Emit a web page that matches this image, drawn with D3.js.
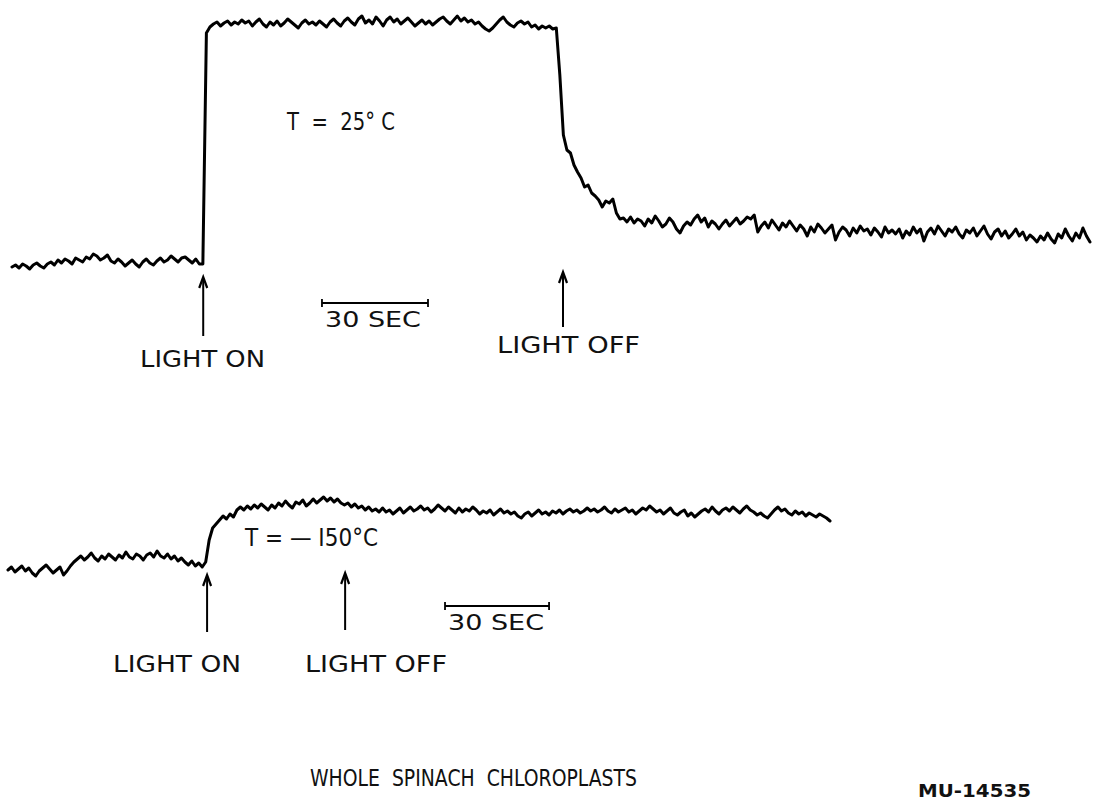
<!DOCTYPE html>
<html>
<head>
<meta charset="utf-8">
<script src="https://cdn.jsdelivr.net/npm/d3@7"></script>
<style>
    body { margin:0; background:#fff; }
    svg text { font-family:"DejaVu Sans", sans-serif; fill:#111; white-space:pre; }
</style>
</head>
<body>
<svg id="chart" width="1093" height="805"></svg>
<script>
// signal deflection (arbitrary units), one sample per second
var topTrace = [
    3,5,2,6,4,1,5,7,4,2,6,
    8,5,10,7,11,9,6,12,10,8,
    13,11,16,14,10,12,15,9,7,11,
    8,4,7,10,6,3,8,11,7,5,
    9,12,8,10,14,11,8,12,13,10,7,11,6,
    6,
    237,243,246,248,244,247,249,245,248,246,250,
    247,249,244,248,251,246,243,248,245,249,
    244,247,251,248,245,242,247,250,246,248,
    245,249,246,243,248,251,247,244,249,252,
    248,245,251,254,247,250,246,253,249,244,
    250,253,248,251,246,249,252,248,244,247,
    250,246,249,245,248,251,253,249,246,250,
    254,249,252,248,250,246,248,244,241,239,
    242,246,250,253,248,245,243,247,249,246,
    248,243,245,241,244,242,244,241,
    242,
    195,135,120,117,105,98,92,83,85,77,74,70,63,69,67,71,57,51,52,48,53,47,51,49,44,51,
    47,54,49,43,46,52,48,41,37,44,
    48,45,51,55,48,52,43,49,46,41,
    46,50,44,48,52,46,49,53,51,55,
    38,44,48,42,50,45,40,47,43,49,
    44,39,45,41,34,43,38,46,42,37,
    41,45,30,38,43,40,34,42,37,44,
    39,41,35,42,38,33,43,37,40,36,
    41,32,39,35,43,37,41,29,38,42,
    36,44,39,34,41,38,43,36,32,40,
    37,42,34,39,44,36,31,38,41,34,
    39,32,36,41,34,38,30,35,32,28,
    34,30,37,31,27,36,32,41,34,29,
    37,32,42,34,28
];
var bottomTrace = [
    15,18,13,16,19,14,17,12,9,14,17,
    20,16,12,15,18,10,14,19,23,26,
    29,25,28,32,27,24,29,26,31,28,
    25,30,27,33,28,26,31,29,25,30,
    32,28,34,29,27,31,26,29,24,27,
    23,20,24,19,22,18,23,
    45,57,61,65,69,66,71,68,75,78,
    75,79,76,80,77,81,78,75,80,77,
    82,79,84,80,77,83,81,85,79,82,
    86,82,85,88,84,87,83,86,82,80,
    82,78,81,77,79,75,78,74,76,73,
    77,73,75,71,74,77,72,75,78,74,
    76,79,75,77,73,76,80,77,74,78,
    75,72,77,73,76,74,78,75,71,74,
    72,75,70,73,76,72,74,71,73,69,
    67,71,73,69,72,75,71,73,70,74,
    72,75,71,74,76,73,75,72,74,77,
    74,76,73,75,78,74,72,76,73,75,
    77,73,75,71,74,77,75,79,76,73,
    75,71,74,77,72,70,73,75,69,72,
    68,71,74,76,73,78,74,71,75,77,
    74,78,75,72,76,79,75,73,70,72,
    69,67,71,75,78,74,76,72,70,74,
    71,73,69,72,70,68,71,69,67,64
];

// event times (s) and scale bar start (s)
var topEvents = [{label:"LIGHT ON", t:54.1}, {label:"LIGHT OFF", t:155.9}];
var bottomEvents = [{label:"LIGHT ON", t:57.4}, {label:"LIGHT OFF", t:97.2}];
var topBarStart = 87.7, bottomBarStart = 126;
var barLength = 30;
var topTempLabel = "T  =  25° C";
var bottomTempLabel = "T = — I50°C";
var titleText = "WHOLE  SPINACH  CHLOROPLASTS";
var codeText = "MU-14535";

var svg = d3.select("#chart");
svg.append("rect").attr("width",1093).attr("height",805).attr("fill","#fff");

var xTop = d3.scaleLinear().domain([0, topTrace.length-1]).range([12, 1090]);
var yTop = d3.scaleLinear().domain([0, 250]).range([270, 20]);
var xBot = d3.scaleLinear().domain([0, bottomTrace.length-1]).range([8, 830]);
var yBot = d3.scaleLinear().domain([0, 250]).range([585, 335]);

function drawTrace(data, x, y) {
    var line = d3.line()
        .x(function (d, i) { return x(i); })
        .y(function (d) { return y(d); });
    svg.append("path")
        .datum(data)
        .attr("d", line)
        .attr("fill","none")
        .attr("stroke","#000")
        .attr("stroke-width",3)
        .attr("stroke-linejoin","round")
        .attr("stroke-linecap","round");
}

function drawArrow(xpos, tipY, tailY) {
    svg.append("line").attr("x1",xpos).attr("x2",xpos)
        .attr("y1",tipY+2).attr("y2",tailY)
        .attr("stroke","#000").attr("stroke-width",2);
    svg.append("path")
        .attr("d","M"+(xpos-4)+","+(tipY+11)+"L"+xpos+","+tipY+"L"+(xpos+4)+","+(tipY+11))
        .attr("fill","none").attr("stroke","#000").attr("stroke-width",2.2);
}

function label(txt, x, y, size, len, weight) {
    svg.append("text")
        .attr("x",x).attr("y",y)
        .attr("font-size",size)
        .attr("font-weight",weight || "normal")
        .attr("textLength",len)
        .attr("lengthAdjust","spacingAndGlyphs")
        .attr("xml:space","preserve")
        .text(txt);
}

function scaleBar(x, t0, yy) {
    var x1 = x(t0), x2 = x(t0 + barLength);
    svg.append("line").attr("x1",x1).attr("x2",x2).attr("y1",yy).attr("y2",yy)
        .attr("stroke","#000").attr("stroke-width",2);
    [x1, x2].forEach(function (xx) {
        svg.append("line").attr("x1",xx).attr("x2",xx).attr("y1",yy-4).attr("y2",yy+4)
            .attr("stroke","#000").attr("stroke-width",1.8);
    });
    label("30 SEC", x1+3, yy+24, 22, 96);
}

drawTrace(topTrace, xTop, yTop);
drawTrace(bottomTrace, xBot, yBot);

// top panel annotations
drawArrow(xTop(topEvents[0].t), 277, 336);
drawArrow(xTop(topEvents[1].t), 272, 327);
label(topEvents[0].label, 140, 367, 23, 125);
label(topEvents[1].label, 497, 353, 23, 143);
scaleBar(xTop, topBarStart, 303);
label(topTempLabel, 287, 130, 24, 108);

// bottom panel annotations
drawArrow(xBot(bottomEvents[0].t), 575, 632);
drawArrow(xBot(bottomEvents[1].t), 573, 630);
label(bottomEvents[0].label, 113, 672, 23, 128);
label(bottomEvents[1].label, 305, 672, 23, 142);
scaleBar(xBot, bottomBarStart, 606);
label(bottomTempLabel, 245, 546, 24, 133);

label(titleText, 310, 786, 23, 327);
label(codeText, 918, 797, 17, 113, "bold");
</script>
</body>
</html>
